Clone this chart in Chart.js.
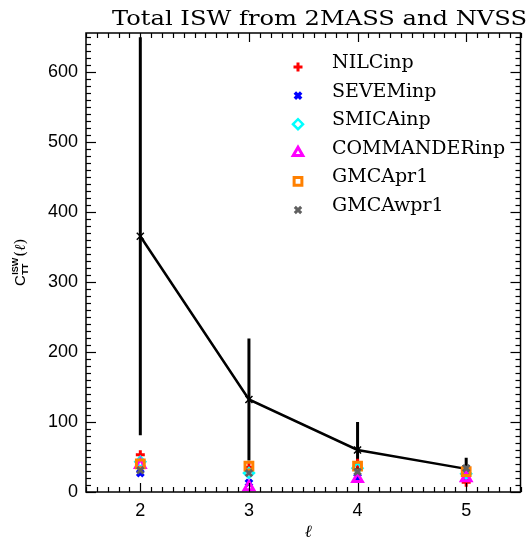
<!DOCTYPE html>
<html><head><meta charset="utf-8">
<script src="https://cdn.jsdelivr.net/npm/chart.js@4"></script>
<style>html,body{margin:0;padding:0;background:#fff}canvas{display:block}</style>
</head><body>
<canvas id="c" width="529" height="542"></canvas>
<script>
// ---- data ----
const ells = [2, 3, 4, 5];
const xTickValues = [2, 3, 4, 5];
const yTickValues = [0, 100, 200, 300, 400, 500, 600];
const totalIsw = [365, 132, 60, 33];
const totalErr = [284, 87, 40, 16];
const nilcInp = [53, 35, 41, 14];
const sevemInp = [27, 13, 21, 23];
const smicaInp = [43, 27, 34, 26];
const commanderInp = [39, 7, 19, 20];
const gmcaPr1 = [40, 37, 37, 29];
const gmcaWpr1 = [31, 27, 29, 34];
const seriesNames = ['NILCinp', 'SEVEMinp', 'SMICAinp', 'COMMANDERinp', 'GMCApr1', 'GMCAwpr1'];
const seriesValues = [nilcInp, sevemInp, smicaInp, commanderInp, gmcaPr1, gmcaWpr1];
const titleText = 'Total ISW from 2MASS and NVSS';
const xTitle = 'ℓ';

// ---- styles ----
const seriesStyles = [
  {color: '#ff0000', pointStyle: 'cross', radius: 4.5, borderWidth: 3},
  {color: '#0000ff', pointStyle: 'crossRot', radius: 4.5, borderWidth: 3.5},
  {color: '#00ffff', pointStyle: 'rectRot', radius: 5, borderWidth: 2.5},
  {color: '#ff00ff', pointStyle: 'triangle', radius: 5.5, borderWidth: 3},
  {color: '#ff8000', pointStyle: 'rect', radius: 5.5, borderWidth: 3},
  {color: '#606060', pointStyle: 'crossRot', radius: 4.5, borderWidth: 3}
];

const datasets = [];
ells.forEach((l, i) => {
  datasets.push({
    type: 'line', order: 20,
    data: [{x: l, y: totalIsw[i] - totalErr[i]}, {x: l, y: totalIsw[i] + totalErr[i]}],
    borderColor: '#000', borderWidth: 3, pointRadius: 0, fill: false
  });
});
datasets.push({
  type: 'line', order: 19,
  data: ells.map((l, i) => ({x: l, y: totalIsw[i]})),
  borderColor: '#000', borderWidth: 2.5, pointStyle: 'crossRot', pointRadius: 5,
  pointBorderWidth: 1.5, pointBorderColor: '#000', fill: false, tension: 0
});
seriesNames.forEach((name, s) => {
  const st = seriesStyles[s];
  datasets.push({
    type: 'scatter', label: name, order: 10 - s,
    data: ells.map((l, i) => ({x: l, y: seriesValues[s][i]})),
    borderColor: st.color, backgroundColor: 'rgba(0,0,0,0)',
    pointStyle: st.pointStyle, pointRadius: st.radius, pointBorderWidth: st.borderWidth
  });
});

const decorPlugin = {
  id: 'decor',
  afterDraw(chart) {
    const {ctx, chartArea: a, scales: {x, y}} = chart;
    ctx.save();
    // frame
    ctx.strokeStyle = '#000';
    ctx.lineWidth = 1.5;
    ctx.strokeRect(a.left, a.top, a.right - a.left, a.bottom - a.top);
    ctx.lineWidth = 1.2;
    const seg = (x1, y1, x2, y2) => { ctx.beginPath(); ctx.moveTo(x1, y1); ctx.lineTo(x2, y2); ctx.stroke(); };
    for (let k = 15; k <= 55; k++) {
      const px = Math.round(x.getPixelForValue(k / 10)) + 0.5;
      const len = (k % 10 === 0) ? 9 : 5;
      seg(px, a.bottom, px, a.bottom - len);
      seg(px, a.top, px, a.top + len);
    }
    for (let v = 0; v <= 650; v += 10) {
      const py = Math.round(y.getPixelForValue(v)) + 0.5;
      const len = (v % 100 === 0) ? 10 : 5;
      seg(a.left, py, a.left + len, py);
      seg(a.right, py, a.right - len, py);
    }
    // title
    ctx.fillStyle = '#000';
    ctx.textBaseline = 'alphabetic';
    ctx.font = '21px "DejaVu Serif"';
    const tw = ctx.measureText(titleText).width;
    const target = 415;
    ctx.save();
    ctx.translate(112, 25);
    ctx.scale(target / tw, 1);
    ctx.textAlign = 'left';
    ctx.fillText(titleText, 0, 0);
    ctx.restore();
    // x title
    ctx.font = 'italic 17px "DejaVu Serif"';
    ctx.textAlign = 'center';
    ctx.fillText(xTitle, (a.left + a.right) / 2 + 5, 537);
    // y title rotated
    ctx.save();
    ctx.translate(25, 262);
    ctx.rotate(-Math.PI / 2);
    ctx.textAlign = 'left';
    let cx = -24;
    ctx.font = '15px "Liberation Sans"';
    ctx.fillText('C', cx, 0);
    cx += ctx.measureText('C').width + 0.5;
    ctx.font = 'bold 9px "Liberation Sans"';
    ctx.fillText('ISW', cx, -7);
    ctx.fillText('TT', cx, 3);
    cx += ctx.measureText('ISW').width + 1;
    ctx.font = '15px "DejaVu Serif"';
    ctx.fillText('(', cx, 0);
    cx += ctx.measureText('(').width;
    ctx.font = 'italic 15px "DejaVu Serif"';
    ctx.fillText('ℓ', cx, 0);
    cx += ctx.measureText('ℓ').width;
    ctx.font = '15px "DejaVu Serif"';
    ctx.fillText(')', cx, 0);
    ctx.restore();
    // legend
    const lx = 298, tx = 332, ly0 = 67, dy = 28.6;
    ctx.font = '19px "DejaVu Serif"';
    ctx.textAlign = 'left';
    ctx.textBaseline = 'middle';
    seriesNames.forEach((name, s) => {
      const st = seriesStyles[s];
      const yy = ly0 + s * dy;
      ctx.strokeStyle = st.color;
      ctx.fillStyle = 'rgba(0,0,0,0)';
      ctx.lineWidth = st.borderWidth;
      Chart.helpers.drawPoint(ctx, {pointStyle: st.pointStyle, radius: st.radius, borderWidth: st.borderWidth, rotation: 0}, lx, yy);
      ctx.fillStyle = '#000';
      ctx.fillText(name, tx, yy - 4);
    });
    ctx.restore();
  }
};

new Chart(document.getElementById('c'), {
  data: {datasets},
  options: {
    responsive: false, animation: false, devicePixelRatio: 1,
    layout: {padding: {left: 0, top: 33, right: 2, bottom: 0}},
    plugins: {legend: {display: false}, tooltip: {enabled: false}, title: {display: false}},
    scales: {
      x: {
        type: 'linear', min: 1.5, max: 5.5,
        grid: {display: false, drawTicks: false}, border: {display: false},
        afterBuildTicks: s => { s.ticks = xTickValues.map(v => ({value: v})); },
        afterFit: s => { s.height = 50; },
        ticks: {padding: 8, color: '#000', font: {family: '"Liberation Sans"', size: 18}, callback: v => String(v)}
      },
      y: {
        type: 'linear', min: 0, max: 655,
        grid: {display: false, drawTicks: false}, border: {display: false},
        afterBuildTicks: s => { s.ticks = yTickValues.map(v => ({value: v})); },
        afterFit: s => { s.width = 86; },
        ticks: {padding: 8, color: '#000', font: {family: '"Liberation Sans"', size: 18}, callback: v => String(v)}
      }
    }
  },
  plugins: [decorPlugin]
});
</script>
</body></html>
